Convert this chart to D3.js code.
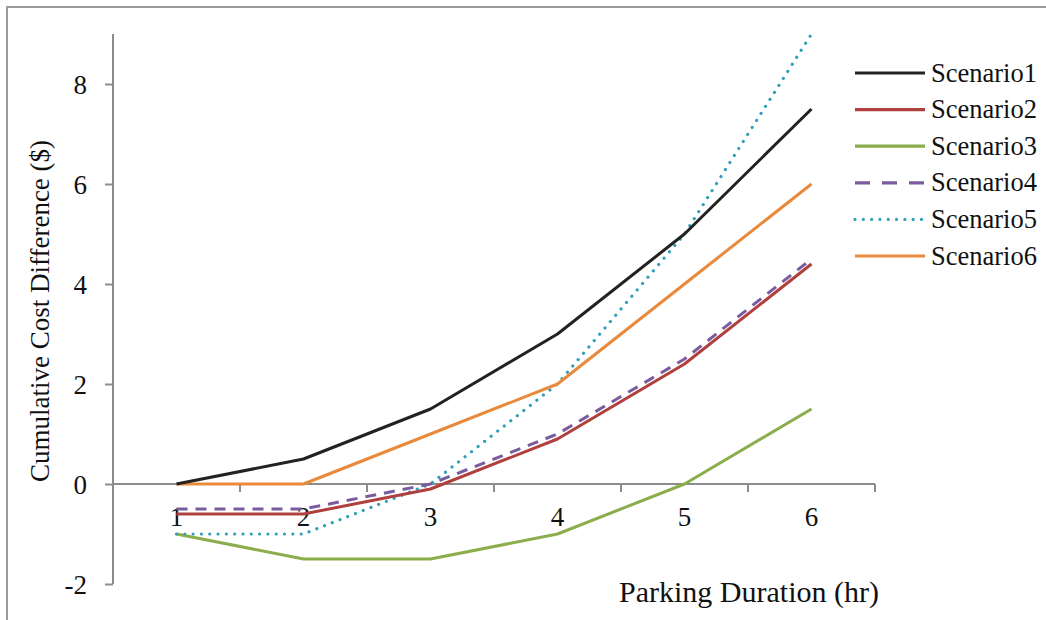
<!DOCTYPE html>
<html>
<head>
<meta charset="utf-8">
<script src="https://cdn.jsdelivr.net/npm/d3@7/dist/d3.min.js"></script>
<style>
  html, body { margin: 0; padding: 0; background: #fff; }
  svg { display: block; }
  text { font-family: "Liberation Serif", "Times New Roman", serif; fill: #111; }
</style>
</head>
<body>
<svg id="chart" width="1046" height="620"></svg>
<script>
// Parking duration categories (hours)
const durations = ["1", "2", "3", "4", "5", "6"];

// Cumulative cost difference ($) for each scenario
const scenario1 = [0, 0.5, 1.5, 3, 5, 7.5];
const scenario2 = [-0.6, -0.6, -0.1, 0.9, 2.4, 4.4];
const scenario3 = [-1, -1.5, -1.5, -1, 0, 1.5];
const scenario4 = [-0.5, -0.5, 0, 1, 2.5, 4.5];
const scenario5 = [-1, -1, 0, 2, 5, 9];
const scenario6 = [0, 0, 1, 2, 4, 6];

const seriesNames = ["Scenario1", "Scenario2", "Scenario3", "Scenario4", "Scenario5", "Scenario6"];
const yTicks = [-2, 0, 2, 4, 6, 8];

const seriesData = [scenario1, scenario2, scenario3, scenario4, scenario5, scenario6];
const styles = [
  { color: "#222222", dash: null, cap: "butt" },
  { color: "#b0403d", dash: null, cap: "butt" },
  { color: "#8cad4c", dash: null, cap: "butt" },
  { color: "#7a5c9e", dash: "11,8", legendDash: "15,12", cap: "butt" },
  { color: "#2f9fba", dash: "0.01,8.3", cap: "round" },
  { color: "#e9893b", dash: null, cap: "butt" }
];

const svg = d3.select("#chart");

// outer frame
svg.append("rect")
  .attr("x", 7).attr("y", 7)
  .attr("width", 1100).attr("height", 700)
  .attr("fill", "none")
  .attr("stroke", "#9a9a9a")
  .attr("stroke-width", 2);

const plot = { left: 113, right: 875, top: 34, bottom: 584 };

const x = d3.scaleBand()
  .domain(durations)
  .range([plot.left, plot.right]);

const y = d3.scaleLinear()
  .domain([-2, 9])
  .range([plot.bottom, plot.top]);

const axisColor = "#8c8c8c";

// y axis
const yAxis = svg.append("g")
  .attr("transform", `translate(${plot.left},0)`)
  .call(d3.axisLeft(y).tickValues(yTicks).tickSize(8).tickSizeOuter(0).tickFormat(d3.format("d")));
yAxis.select(".domain").remove();
yAxis.append("line")
  .attr("x1", 0).attr("x2", 0)
  .attr("y1", plot.top).attr("y2", plot.bottom)
  .attr("stroke", axisColor).attr("stroke-width", 2);
yAxis.selectAll(".tick line").attr("stroke", axisColor).attr("stroke-width", 2);
yAxis.selectAll(".tick text")
  .attr("x", -26)
  .attr("dy", "0.35em")
  .attr("font-size", 27)
  .attr("font-family", "Liberation Serif")
  .attr("fill", "#111")
  .text(d => d < 0 ? "-" + Math.abs(d) : d);

// x axis along zero, ticks at category boundaries
const y0 = y(0);
const xAxisG = svg.append("g");
xAxisG.append("line")
  .attr("x1", plot.left).attr("x2", plot.right)
  .attr("y1", y0).attr("y2", y0)
  .attr("stroke", axisColor).attr("stroke-width", 2);
xAxisG.selectAll(".xtick")
  .data(durations)
  .join("line")
  .attr("class", "xtick")
  .attr("x1", d => x(d) + x.bandwidth())
  .attr("x2", d => x(d) + x.bandwidth())
  .attr("y1", y0).attr("y2", y0 + 8)
  .attr("stroke", axisColor).attr("stroke-width", 2);
xAxisG.selectAll(".xlabel")
  .data(durations)
  .join("text")
  .attr("class", "xlabel")
  .attr("x", d => x(d) + x.bandwidth() / 2)
  .attr("y", y0 + 42)
  .attr("text-anchor", "middle")
  .attr("font-size", 27)
  .text(d => d);

// series lines
const line = d3.line()
  .x((d, i) => x(durations[i]) + x.bandwidth() / 2)
  .y(d => y(d));

const order = [2, 4, 1, 3, 5, 0];
order.forEach(i => {
  svg.append("path")
    .datum(seriesData[i])
    .attr("d", line)
    .attr("fill", "none")
    .attr("stroke", styles[i].color)
    .attr("stroke-width", styles[i].cap === "round" ? 3.2 : 3)
    .attr("stroke-linecap", styles[i].cap)
    .attr("stroke-linejoin", "round")
    .attr("stroke-dasharray", styles[i].dash);
});

// axis titles
svg.append("text")
  .attr("transform", "translate(49,311) rotate(-90)")
  .attr("text-anchor", "middle")
  .attr("font-size", 27)
  .text("Cumulative Cost Difference ($)");

svg.append("text")
  .attr("x", 749).attr("y", 602)
  .attr("text-anchor", "middle")
  .attr("font-size", 30)
  .text("Parking Duration (hr)");

// legend
const legend = svg.append("g");
seriesNames.forEach((name, i) => {
  const cy = 73 + i * 36.6;
  legend.append("line")
    .attr("x1", 855).attr("x2", 925)
    .attr("y1", cy).attr("y2", cy)
    .attr("stroke", styles[i].color)
    .attr("stroke-width", 3.2)
    .attr("stroke-linecap", styles[i].cap)
    .attr("stroke-dasharray", styles[i].legendDash || styles[i].dash);
  legend.append("text")
    .attr("x", 931).attr("y", cy + 8.5)
    .attr("font-size", 26.5)
    .text(name);
});
</script>
</body>
</html>
